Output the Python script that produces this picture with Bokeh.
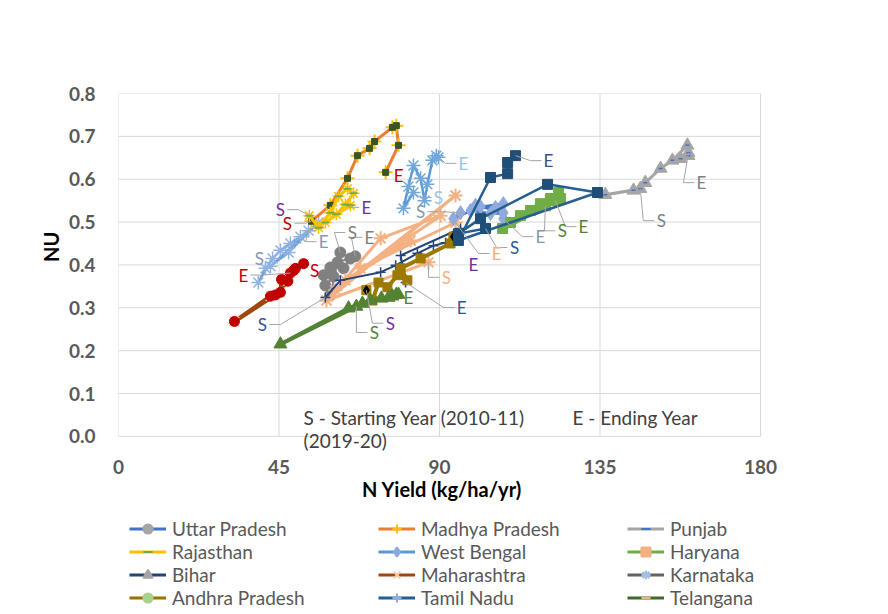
from bokeh.plotting import figure
from bokeh.layouts import column
from bokeh.models import Legend, LegendItem, Label, FixedTicker, NumeralTickFormatter, ColumnDataSource
from bokeh.core.properties import value
from bokeh.embed import file_html
from bokeh.resources import INLINE

FONT = "Lato"

# ---------------- data (N Yield kg/ha/yr, NU) ----------------
up_x = [62.2, 65.0, 63.1, 59.4, 57.5, 60.3, 58.0, 59.4, 61.4, 66.4]
up_y = [0.429, 0.415, 0.392, 0.394, 0.376, 0.373, 0.352, 0.329, 0.406, 0.420]

mp_x = [54.1, 59.4, 64.2, 67.0, 70.4, 71.8, 76.8, 77.9, 78.5, 74.9]
mp_y = [0.502, 0.539, 0.602, 0.655, 0.672, 0.688, 0.721, 0.725, 0.679, 0.616]

pb_x = [146.3, 136.5, 144.4, 147.7, 152.0, 155.3, 159.5, 159.8, 157.6, 159.8]
pb_y = [0.578, 0.564, 0.574, 0.592, 0.625, 0.644, 0.679, 0.655, 0.648, 0.662]

rj_x = [53.5, 56.1, 59.4, 61.7, 64.2, 65.9, 63.6, 61.1, 58.0, 65.0]
rj_y = [0.515, 0.487, 0.522, 0.560, 0.578, 0.567, 0.541, 0.518, 0.499, 0.539]

wb_x = [95.9, 93.9, 101.5, 107.9, 98.7, 104.3, 107.9, 100.1, 105.7, 107.9]
wb_y = [0.522, 0.508, 0.536, 0.543, 0.527, 0.520, 0.522, 0.539, 0.534, 0.508]

hr_x = [119.7, 107.7, 109.9, 112.7, 115.5, 118.3, 121.1, 123.4, 123.9, 122.5]
hr_y = [0.538, 0.485, 0.499, 0.515, 0.527, 0.543, 0.555, 0.569, 0.555, 0.550]

bh_x = [58.0, 62.2, 73.5, 77.7, 83.8, 88.3, 91.7, 95.9, 79.1, 80.5]
bh_y = [0.324, 0.364, 0.383, 0.399, 0.427, 0.445, 0.452, 0.485, 0.422, 0.359]

mh_x = [51.9, 49.1, 45.7, 45.4, 42.6, 32.5, 44.0, 47.5, 49.6, 48.2]
mh_y = [0.403, 0.387, 0.366, 0.336, 0.327, 0.268, 0.330, 0.362, 0.392, 0.381]

ka_x = [82.7, 79.9, 81.3, 82.7, 84.7, 85.8, 86.6, 88.0, 89.1, 89.7]
ka_y = [0.569, 0.532, 0.583, 0.632, 0.602, 0.550, 0.588, 0.644, 0.655, 0.651]

ap_x = [69.5, 71.2, 72.9, 75.4, 78.2, 81.0, 79.1, 84.7, 93.1, 93.9]
ap_y = [0.341, 0.317, 0.359, 0.348, 0.376, 0.364, 0.392, 0.415, 0.450, 0.466]

tn_x = [102.9, 95.3, 101.5, 120.3, 134.3, 95.3, 104.3, 109.1, 109.1, 111.3]
tn_y = [0.485, 0.473, 0.508, 0.588, 0.569, 0.457, 0.604, 0.613, 0.639, 0.655]

tg_x = [66.7, 45.4, 64.5, 68.4, 70.6, 73.7, 75.7, 76.8, 77.9, 78.5]
tg_y = [0.303, 0.215, 0.299, 0.310, 0.317, 0.322, 0.324, 0.327, 0.331, 0.331]

# two further series whose legend rows are cut off in the original
ex1_x = [41.2, 39.2, 43.2, 45.4, 48.2, 51.0, 56.1, 47.7, 42.6, 53.3]
ex1_y = [0.392, 0.359, 0.415, 0.434, 0.450, 0.466, 0.499, 0.429, 0.397, 0.480]

ex2_x = [86.9, 58.3, 94.5, 60.8, 73.5, 90.3, 63.6, 81.9, 67.8, 94.5]
ex2_y = [0.406, 0.317, 0.562, 0.341, 0.462, 0.515, 0.364, 0.457, 0.392, 0.499]

x_ticks = [0, 45, 90, 135, 180]
y_ticks = [0.0, 0.1, 0.2, 0.3, 0.4, 0.5, 0.6, 0.7, 0.8]

legend_cols = [
    ["Uttar Pradesh", "Rajasthan", "Bihar", "Andhra Pradesh"],
    ["Madhya Pradesh", "West Bengal", "Maharashtra", "Tamil Nadu"],
    ["Punjab", "Haryana", "Karnataka", "Telangana"],
]

notes = [("S - Starting Year (2010-11)", 51.9, 0.044),
         ("E - Ending Year", 127.3, 0.044),
         ("(2019-20)", 51.9, -0.009)]

# ---------------- main figure ----------------
W = 880
L, T = 118, 93
XMAX = 210                     # frame runs a little past 180 so the legend below is not clipped
FW, FH = round(642 * XMAX / 180), 360
Y0 = -0.04
BB = 51
p = figure(frame_width=FW, frame_height=FH, x_range=(0, XMAX), y_range=(Y0, 0.8),
           output_backend="svg", toolbar_location=None,
           min_border_left=L, min_border_right=W - L - FW, min_border_top=T, min_border_bottom=BB)
p.outline_line_color = None
p.background_fill_color = "white"
p.border_fill_color = "white"
p.xgrid.grid_line_color = None
p.ygrid.grid_line_color = None
p.xaxis.ticker = FixedTicker(ticks=x_ticks)
p.yaxis.ticker = FixedTicker(ticks=y_ticks)
p.yaxis.formatter = NumeralTickFormatter(format="0.0")
for ax in (p.xaxis, p.yaxis):
    ax.axis_line_color = None
    ax.major_tick_line_color = None
    ax.minor_tick_line_color = None
    ax.major_label_text_font = FONT
    ax.major_label_text_font_style = "bold"
    ax.major_label_text_font_size = "19px"
    ax.major_label_text_color = "#595959"
    ax.axis_label_text_font = FONT
    ax.axis_label_text_font_style = "bold"
    ax.axis_label_text_font_size = "20px"
    ax.axis_label_text_color = "#000000"
p.yaxis.major_label_standoff = 17
p.xaxis.major_label_standoff = 0
p.xaxis.axis_label = "N Yield (kg/ha/yr)" + "\u00a0" * 21
p.xaxis.axis_label_standoff = 0
p.yaxis.axis_label = "\u00a0" * 11 + "NU"
p.yaxis.axis_label_standoff = 3

# gridlines limited to the plotted value range
p.segment(x0=x_ticks, y0=[y_ticks[0]] * len(x_ticks), x1=x_ticks, y1=[y_ticks[-1]] * len(x_ticks),
          line_color="#D9D9D9", line_width=1)
p.segment(x0=[x_ticks[0]] * len(y_ticks), y0=y_ticks, x1=[x_ticks[-1]] * len(y_ticks), y1=y_ticks,
          line_color="#D9D9D9", line_width=1)

pxu = FW / XMAX
pyu = FH / (0.8 - Y0)

def series(xs, ys, lc, lw, markers):
    p.line(xs, ys, line_color=lc, line_width=lw)
    for kind, col, size, lwid, fill in markers:
        if fill:
            p.scatter(xs, ys, marker=kind, size=size, fill_color=col, line_color=col, line_width=lwid)
        else:
            p.scatter(xs, ys, marker=kind, size=size, line_color=col, line_width=lwid, fill_color=None)

series(up_x, up_y, "#7F7F7F", 2, [("circle", "#808080", 11, 1, True)])
series(ex1_x, ex1_y, "#6F9FD8", 2.2, [("asterisk", "#8FB4E3", 14, 1.5, False)])
series(ka_x, ka_y, "#5B9BD5", 2.5, [("asterisk", "#6FA8DC", 14, 1.5, False)])
series(ex2_x, ex2_y, "#F4B183", 3, [("asterisk", "#F4B183", 14, 2, False)])
series(bh_x, bh_y, "#264478", 2, [("cross", "#264478", 10, 1.5, False)])
series(wb_x, wb_y, "#4472C4", 2.5, [("diamond", "#8FAADC", 14, 1, True)])
series(mp_x, mp_y, "#ED7D31", 3, [("cross", "#FFC000", 14, 2, False), ("square", "#375623", 6, 1, True)])
series(rj_x, rj_y, "#FFC000", 3, [("asterisk", "#FFC000", 12, 1.5, False), ("dash", "#70AD47", 8, 2, False)])
series(pb_x, pb_y, "#A5A5A5", 3, [("triangle", "#A5A5A5", 13, 1, True), ("dash", "#4472C4", 4, 1.5, False)])
series(hr_x, hr_y, "#70AD47", 5, [("square", "#70AD47", 10, 1, True)])
series(ap_x, ap_y, "#9C7A00", 4, [("square", "#9C7A00", 9, 1, True)])
p.scatter([ap_x[0], ap_x[-1]], [ap_y[0], ap_y[-1]], marker="diamond", size=9, color="#000000")
series(tn_x, tn_y, "#255E91", 2.5, [("square", "#1F4E79", 10, 1, True)])
series(tg_x, tg_y, "#548235", 4, [("triangle", "#548235", 13, 1, True)])
series(mh_x, mh_y, "#9E480E", 4, [("x", "#F8CBAD", 13, 1.5, False), ("circle", "#C00000", 10, 1, True)])

# ---------------- S / E labels (pixel offsets from first / last point) ----------------
label_specs = [
    (mh_x, mh_y, "#C00000", (11, 7, False), (-47, 2, True)),
    (mp_x, mp_y, "#C00000", (-24, 2, True), (13, 3, False)),
    (rj_x, rj_y, "#7030A0", (-29, -6, True), (16, 2, True)),
    (ex1_x, ex1_y, "#8497B0", (-6, -10, False), (15, 11, True)),
    (ka_x, ka_y, "#9DC3E6", (25, 5, True), (25, 6, True)),
    (up_x, up_y, "#808080", (12, -20, True), (14, -19, True)),
    (ex2_x, ex2_y, "#F4B183", (18, 15, True), (41, 31, True)),
    (ap_x, ap_y, "#7030A0", (24, 33, True), (20, 28, False)),
    (tg_x, tg_y, "#548235", (18, 26, True), (10, 3, False)),
    (tn_x, tn_y, "#2F5597", (29, 19, True), (33, 5, True)),
    (hr_x, hr_y, "#548235", (17, 25, True), (28, 26, True)),
    (pb_x, pb_y, "#808080", (21, 32, True), (13, 30, True)),
    (wb_x, wb_y, "#8497B0", (-40, -1, True), (37, 18, True)),
    (bh_x, bh_y, "#2F5597", (-63, 27, True), (56, 25, True)),
]
tx, ty, tt, tc = [], [], [], []
lx, ly = [], []
for xs, ys, col, s, e in label_specs:
    for txt, idx, (dx, dy, lead) in (("S", 0, s), ("E", -1, e)):
        x0, y0 = xs[idx], ys[idx]
        xl, yl = x0 + dx / pxu, y0 - dy / pyu
        tx.append(xl); ty.append(yl); tt.append(txt); tc.append(col)
        if lead:
            sg = 1 if dx >= 0 else -1
            lx.append([x0, xl - sg * 18 / pxu, xl - sg * 7 / pxu])
            ly.append([y0, yl, yl])
p.multi_line(lx, ly, line_color="#A6A6A6", line_width=1)
p.text(tx, ty, text=tt, text_color=tc, text_font=value(FONT), text_font_size="17px",
       text_align="center", text_baseline="middle")

for txt, xv, yv in notes:
    p.add_layout(Label(x=xv, y=yv, text=txt, text_font=FONT, text_font_size="19px",
                       text_color="#404040", text_baseline="middle", text_align="left"))

# ---------------- legend panel (3 columns) ----------------
leg_style = {
    "Uttar Pradesh": ("#4472C4", "circle", "#A5A5A5"),
    "Madhya Pradesh": ("#ED7D31", "cross", "#FFC000"),
    "Punjab": ("#A5A5A5", "dash", "#4472C4"),
    "Rajasthan": ("#FFC000", "dash", "#70AD47"),
    "West Bengal": ("#5B9BD5", "diamond", "#8FAADC"),
    "Haryana": ("#70AD47", "square", "#F4B183"),
    "Bihar": ("#264478", "triangle", "#A5A5A5"),
    "Maharashtra": ("#9E480E", "x", "#F8CBAD"),
    "Karnataka": ("#636363", "asterisk", "#9DC3E6"),
    "Andhra Pradesh": ("#997300", "circle", "#A9D18E"),
    "Tamil Nadu": ("#255E91", "cross", "#8FAADC"),
    "Telangana": ("#43682B", "dash", "#F4B183"),
}
LH = 612 - (T + FH + BB)
p2 = figure(width=W, height=LH, x_range=(0, 1), y_range=(0, 1), x_axis_type=None, y_axis_type=None,
            output_backend="svg", toolbar_location=None, min_border=0)
p2.outline_line_color = None
p2.xgrid.grid_line_color = None
p2.ygrid.grid_line_color = None
col_x = [11, 260, 509]
for ci, names in enumerate(legend_cols):
    items = []
    for nm in names:
        lc, mk, mc = leg_style[nm]
        src = ColumnDataSource(data=dict(x=[-5], y=[-5]))   # off-canvas point: legend swatch only
        r1 = p2.line("x", "y", source=src, line_color=lc, line_width=3)
        r2 = p2.scatter("x", "y", source=src, marker=mk, size=10, fill_color=mc, line_color=mc, line_width=2)
        items.append(LegendItem(label=nm, renderers=[r1, r2]))
    lg = Legend(items=items, location=(col_x[ci], 3), orientation="vertical",
                glyph_width=37, glyph_height=23, label_height=23, spacing=0,
                label_standoff=6, padding=0, margin=0,
                border_line_color=None, background_fill_alpha=0,
                label_text_font=FONT, label_text_font_size="19px", label_text_color="#595959")
    p2.add_layout(lg, "center")

open("out.html", "w").write(file_html(column(p, p2), INLINE))
